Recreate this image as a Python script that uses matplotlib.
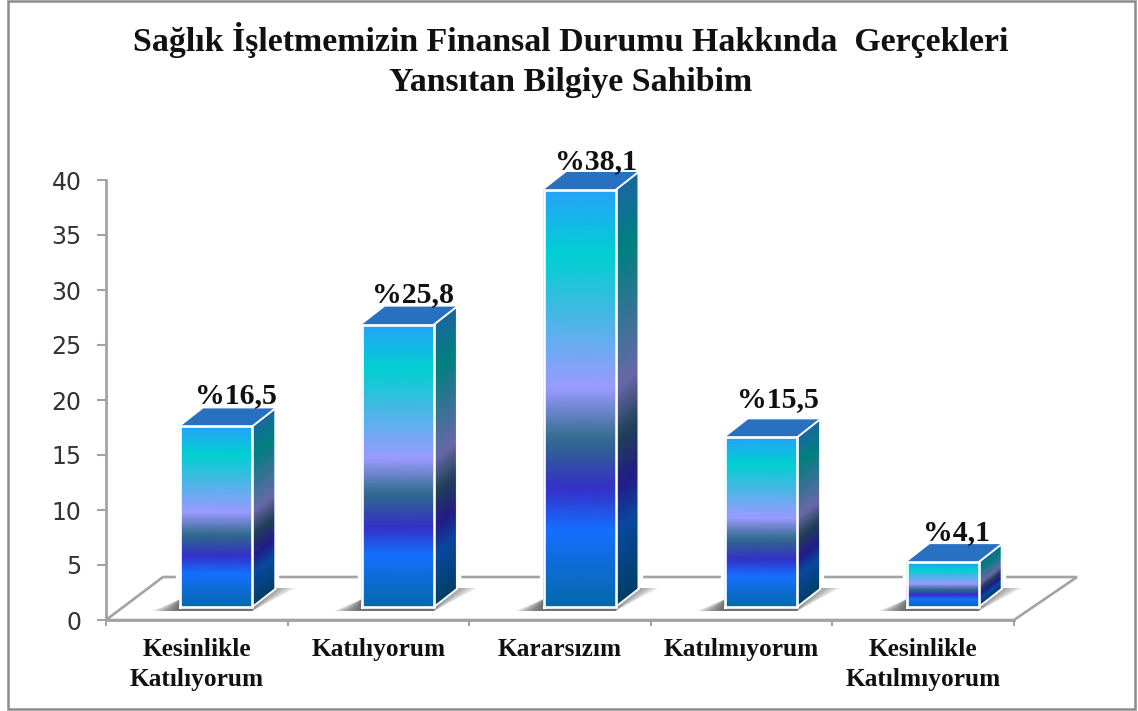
import numpy as np
import matplotlib
matplotlib.use("Agg")
import matplotlib.pyplot as plt
from matplotlib.colors import LinearSegmentedColormap
from matplotlib.patches import Polygon, Rectangle

# -----------------------------
# Data
# -----------------------------
categories = ["Kesinlikle\nKatılıyorum", "Katılıyorum", "Kararsızım", "Katılmıyorum", "Kesinlikle\nKatılmıyorum"]
values = [16.5, 25.8, 38.1, 15.5, 4.1]
value_labels = ["%16,5", "%25,8", "%38,1", "%15,5", "%4,1"]
y_ticks = [0, 5, 10, 15, 20, 25, 30, 35, 40]
title = "Sağlık İşletmemizin Finansal Durumu Hakkında  Gerçekleri\nYansıtan Bilgiye Sahibim"

# -----------------------------
# Layout (pixels of the 1138x711 picture)
# -----------------------------
W, H = 1138, 711
AX_LEFT, AX_RIGHT, AX_TOP, AX_BOTTOM = 106, 1014, 180, 620
PX_X = len(categories) / (AX_RIGHT - AX_LEFT)  # data units per pixel
PX_Y = 40 / (AX_BOTTOM - AX_TOP)
BAR_W = 72 * PX_X
BAR_SHIFT = 19.5 * PX_X   # bars sit on the floor, right of the slot centre
BASE = 13 * PX_Y          # front of bar above the axis floor line
DEPTH_X = 23 * PX_X
DEPTH_Y = 18 * PX_Y
BAR_SCALE = 0.995
LABEL_SHIFT = [20, 15, 17, 17, 14]
LABEL_LIFT = [23, 23, 21, 30, 22]

front_cmap = LinearSegmentedColormap.from_list("front", [
    (0.0, "#0668a8"), (0.183, "#1470ff"), (0.283, "#3430c8"), (0.40, "#306a8c"),
    (0.526, "#9a9aff"), (0.845, "#00d0d0"), (1.0, "#26a2fa")])
side_cmap = LinearSegmentedColormap.from_list("side", [
    (0.0, "#003e66"), (0.183, "#0a48a0"), (0.283, "#221c88"), (0.40, "#204058"),
    (0.526, "#6868a8"), (0.845, "#008080"), (1.0, "#1a68a0")])
GRID_T = np.linspace(0, 1, 60)
GRAY = "#a3a3a3"

fig = plt.figure(figsize=(W / 100, H / 100), dpi=100, facecolor="white")
ax = fig.add_axes([AX_LEFT / W, 1 - AX_BOTTOM / H, (AX_RIGHT - AX_LEFT) / W, (AX_BOTTOM - AX_TOP) / H])
ax.set_xlim(0, len(categories))
ax.set_ylim(0, 40)
ax.patch.set_visible(False)

# Outer frame
fig.add_artist(Rectangle((7.5 / W, 1 - 709 / H), 1127 / W, 708 / H, transform=fig.transFigure,
                         fill=False, edgecolor="#8c8c8c", linewidth=1.8))

# -----------------------------
# Floor
# -----------------------------
floor = [(0.0, 0.0), (57 * PX_X, 43 * PX_Y), (5 + 63 * PX_X, 43 * PX_Y), (5.0, 0.0)]
ax.add_patch(Polygon(floor, closed=True, facecolor="white", edgecolor=GRAY, linewidth=1.9,
                     clip_on=False, zorder=1))

# -----------------------------
# Bars
# -----------------------------
for i, (value, text) in enumerate(zip(values, value_labels)):
    x0 = i + 0.5 + BAR_SHIFT - BAR_W / 2
    x1 = x0 + BAR_W
    top = BASE + value * BAR_SCALE

    # white halo breaks the floor's back line next to the bar
    ax.plot([x0, x0, x1 + DEPTH_X, x1 + DEPTH_X], [BASE, top, top, BASE + DEPTH_Y], color="white", lw=6,
            zorder=1.5, clip_on=False)

    # soft shadow on the floor
    for grow in np.linspace(1.0, 0.15, 12):
        shadow = [(x0 - 28 * grow * PX_X, BASE - 4 * PX_Y), (x1, BASE - 4 * PX_Y),
                  (x1 + 43 * grow * PX_X, BASE + 19 * PX_Y),
                  (x1 + 20 * PX_X, BASE + 19 * PX_Y), (x0, BASE + 8 * PX_Y)]
        ax.add_patch(Polygon(shadow, closed=True, facecolor="#484848", edgecolor="none",
                             alpha=0.11, zorder=2 + i * 0.1, clip_on=False))

    z = 3 + i
    # front face
    yy = BASE + GRID_T * (top - BASE)
    X = np.array([[x0, x1]] * len(GRID_T))
    Y = np.column_stack([yy, yy])
    C = np.column_stack([GRID_T, GRID_T])
    ax.pcolormesh(X, Y, C, shading="gouraud", cmap=front_cmap, vmin=0, vmax=1, zorder=z, clip_on=False)

    # side face, sheared by the depth
    X = np.array([[x1, x1 + DEPTH_X]] * len(GRID_T))
    Y = np.column_stack([yy, yy + DEPTH_Y])
    ax.pcolormesh(X, Y, C, shading="gouraud", cmap=side_cmap, vmin=0, vmax=1, zorder=z, clip_on=False)

    # top face
    cap = [(x0, top), (x1, top), (x1 + DEPTH_X, top + DEPTH_Y), (x0 + DEPTH_X, top + DEPTH_Y)]
    ax.add_patch(Polygon(cap, closed=True, facecolor="#2870c0", edgecolor="none", zorder=z, clip_on=False))

    # white outlines
    ax.plot([x0, x0, x1, x1, x0], [BASE, top, top, BASE, BASE], color="white", lw=1.9, zorder=z + 0.1,
            clip_on=False, solid_joinstyle="miter")
    ax.plot([x1, x1 + DEPTH_X], [BASE, BASE + DEPTH_Y], color="white", lw=1.4, zorder=z + 0.1, clip_on=False)
    ax.plot([x1, x1 + DEPTH_X, x1 + DEPTH_X], [top, top + DEPTH_Y, BASE + DEPTH_Y], color="white", lw=1.4,
            zorder=z + 0.1, clip_on=False)

    ax.text(i + 0.5 + BAR_SHIFT + LABEL_SHIFT[i] * PX_X, top + LABEL_LIFT[i] * PX_Y, text, ha="center",
            va="baseline", family="Liberation Serif", fontweight="bold", fontsize=21.5, color="#111111",
            zorder=20, clip_on=False)

# -----------------------------
# Axes
# -----------------------------
for side in ["top", "right"]:
    ax.spines[side].set_visible(False)
for side in ["left", "bottom"]:
    ax.spines[side].set_color(GRAY)
    ax.spines[side].set_linewidth(2.0)

ax.set_yticks(y_ticks)
ax.tick_params(axis="y", labelsize=17, labelcolor="#333333", color=GRAY, width=1.5, length=6.5, pad=11)
ax.set_xticks(range(len(categories) + 1))
ax.set_xticklabels([])
ax.tick_params(axis="x", which="major", color=GRAY, width=1.5, length=4)
ax.set_xticks(np.arange(len(categories)) + 0.5, minor=True)
ax.set_xticklabels(categories, minor=True, family="Liberation Serif", fontweight="bold", fontsize=18.3,
                   color="#111111", linespacing=1.38)
ax.tick_params(axis="x", which="minor", length=0, pad=13)

fig.text(571 / W, 1 - 22 / H, title, ha="center", va="top", family="Liberation Serif", fontweight="bold",
         fontsize=24.4, color="#111111", linespacing=1.36)

fig.savefig("out.png", dpi=100)
